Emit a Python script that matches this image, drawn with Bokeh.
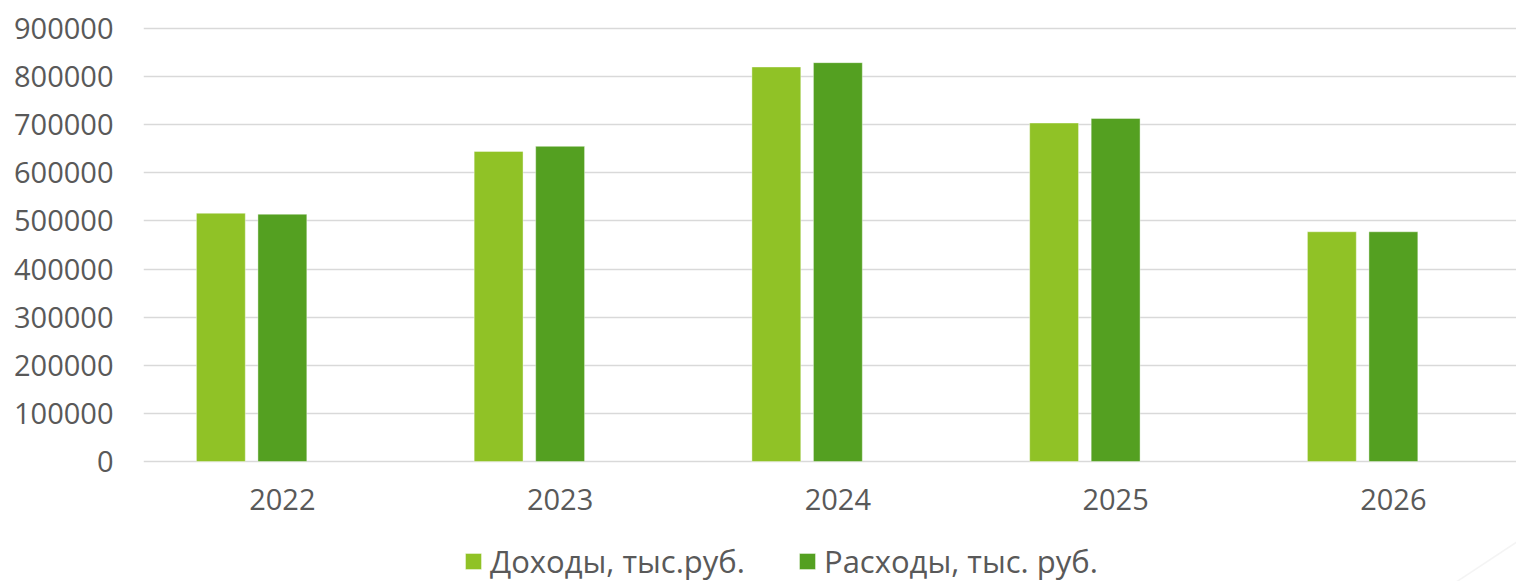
import numpy as np
from bokeh.plotting import figure
from bokeh.models import (ColumnDataSource, Range1d, FixedTicker, BasicTickFormatter,
                          Legend, LegendItem, PolyAnnotation)
from bokeh.embed import file_html
from bokeh.resources import INLINE

years = ["2022", "2023", "2024", "2025", "2026"]
income = [516000, 644500, 820000, 703500, 477500]
expenses = [514000, 655000, 829000, 713000, 477500]
series_names = ["Доходы, тыс.руб.", "Расходы, тыс. руб."]
colors = ["#90C226", "#54A021"]
y_ticks = [0, 100000, 200000, 300000, 400000, 500000, 600000, 700000, 800000, 900000]

FONT = "Open Sans"
TXT = "#595959"

# layout constants (pixels)
W, H = 1516, 581
FRAME_LEFT, FRAME_TOP = 143, 26
ZERO_Y, TOP_Y = 461, 28          # screen y of value 0 and of the top tick
px_per_unit = (ZERO_Y - TOP_Y) / y_ticks[-1]
y_end = y_ticks[-1] + (TOP_Y - FRAME_TOP) / px_per_unit
y_start = -(H - ZERO_Y) / px_per_unit
cat_px = 277.75
x_end = -0.5 + (W - FRAME_LEFT) / cat_px


def sx_to_x(sx):
    return -0.5 + (sx - FRAME_LEFT) / cat_px


def sy_to_y(sy):
    return (ZERO_Y - sy) / px_per_unit


idx = np.arange(len(years))
src = ColumnDataSource(dict(
    x_inc=idx - 0.2215,
    x_exp=idx + 0.0,
    income=income,
    expenses=expenses,
    year=years,
))

p = figure(width=W, height=H, output_backend="svg", toolbar_location=None,
           x_range=Range1d(-0.5, x_end), y_range=Range1d(y_start, y_end),
           min_border_left=FRAME_LEFT, min_border_right=0, min_border_top=FRAME_TOP,
           min_border_bottom=0)
p.outline_line_color = None
p.background_fill_color = "white"
p.border_fill_color = "white"

w = 0.176
r1 = p.vbar(x="x_inc", top="income", width=w, source=src, fill_color=colors[0],
            line_color="white", line_alpha=0.5, line_width=0.8)
r2 = p.vbar(x="x_exp", top="expenses", width=w, source=src, fill_color=colors[1],
            line_color="white", line_alpha=0.5, line_width=0.8)

# y axis
p.yaxis.ticker = FixedTicker(ticks=y_ticks)
p.yaxis.formatter = BasicTickFormatter(use_scientific=False)
p.yaxis.axis_line_color = None
p.yaxis.major_tick_line_color = None
p.yaxis.minor_tick_line_color = None
p.yaxis.major_tick_out = 0
p.yaxis.major_tick_in = 0
p.yaxis.major_label_standoff = 30
p.yaxis.major_label_text_font = FONT
p.yaxis.major_label_text_font_size = "29px"
p.yaxis.major_label_text_color = TXT

# x axis, drawn at y = 0
p.xaxis.fixed_location = 0
p.xaxis.ticker = FixedTicker(ticks=list(idx))
p.xaxis.major_label_overrides = {int(i): y for i, y in zip(idx, years)}
p.xaxis.axis_line_color = None
p.xaxis.major_tick_line_color = None
p.xaxis.minor_tick_line_color = None
p.xaxis.major_tick_out = 0
p.xaxis.major_tick_in = 0
p.xaxis.major_label_standoff = 27
p.xaxis.major_label_text_font = FONT
p.xaxis.major_label_text_font_size = "29px"
p.xaxis.major_label_text_color = TXT

p.xgrid.grid_line_color = None
p.ygrid.grid_line_color = "#D9D9D9"
p.ygrid.grid_line_width = 1.6

legend = Legend(items=[LegendItem(label=series_names[0], renderers=[r1]),
                       LegendItem(label=series_names[1], renderers=[r2])],
                location=(320, -1), orientation="horizontal",
                padding=0, margin=0, spacing=0, label_standoff=7,
                label_width=307,
                glyph_width=20, glyph_height=20,
                border_line_color=None, background_fill_alpha=0,
                label_text_font=FONT, label_text_font_size="31px",
                label_text_color=TXT)
p.add_layout(legend, "center")

# decorative slide stroke in the bottom-right corner
deco = PolyAnnotation(xs=[sx_to_x(1455), sx_to_x(1520)], ys=[sy_to_y(582), sy_to_y(539)],
                      fill_alpha=0, line_color="#D9D9D9", line_width=1.5)
p.add_layout(deco)

open("out.html", "w").write(file_html(p, INLINE))
